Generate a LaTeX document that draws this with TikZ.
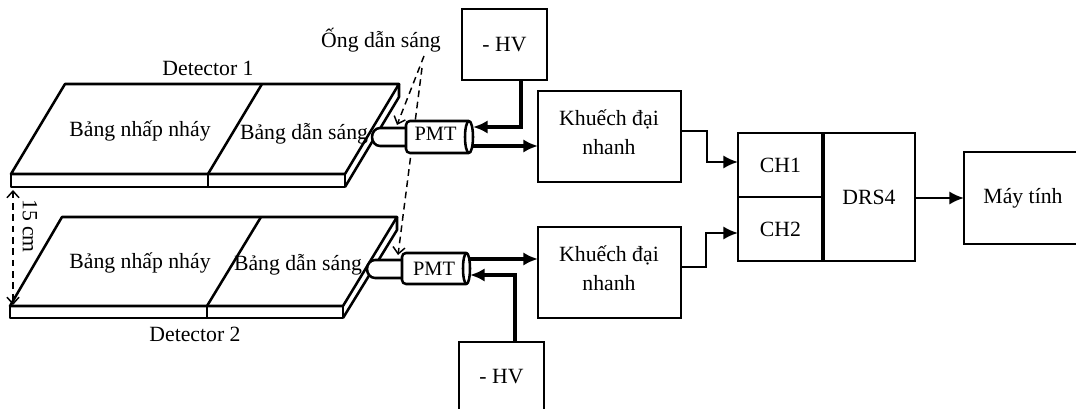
\documentclass[tikz,border=0pt]{standalone}
\usepackage{fontspec}
\setmainfont{Liberation Serif}
\usepackage{tikz}
\usetikzlibrary{arrows.meta}
\tikzset{
  lbl/.style={font=\fontsize{16.3pt}{21.5pt}\selectfont, inner sep=0pt, align=center},
  box/.style 2 args={draw, line width=1.9pt, fill=white, outer sep=0pt, inner sep=0pt, align=center, minimum width=#1*0.75pt, minimum height=#2*0.75pt, lbl},
  plate/.style={draw, line width=1.9pt, line join=round},
  link/.style={line width=1.9pt, -{Latex[length=11pt,width=10pt]}},
  heavy/.style={link, line width=2.5pt},
  hint/.style={line width=1.1pt, dash pattern=on 5pt off 3.5pt, -{Straight Barb[length=5pt,width=9pt]}}
}
\begin{document}
\begin{tikzpicture}[x=0.75pt, y=-0.75pt]
    \useasboundingbox (0,0) rectangle (1076,409);
    \clip (0,0) rectangle (1076,409);

    \coordinate (G1) at (424,56);
    \coordinate (G2) at (422,68);
    \coordinate (D1) at (397,125);
    \coordinate (D2) at (398,255);
    \coordinate (gapT) at (13,190);
    \coordinate (gapB) at (13,305);

    % detector 1
    \coordinate (A1) at (11,174);
    \coordinate (A2) at (65,84);
    \coordinate (A3) at (399,84);
    \coordinate (A4) at (345,174);
    \coordinate (A5) at (208,174);
    \coordinate (A6) at (262,84);
    \draw[plate] (A1) -- (A2) -- (A3) -- (A4) -- cycle;
    \draw[plate] (A5) -- (A6);
    \draw[plate] (A1) rectangle (345,187);
    \draw[plate] (A5) -- (208,187);
    \draw[plate] (A3) -- (399,97) -- (345,187);

    % detector 2
    \coordinate (B1) at (10,306);
    \coordinate (B2) at (62,217);
    \coordinate (B3) at (397,217);
    \coordinate (B4) at (343,306);
    \coordinate (B5) at (207,306);
    \coordinate (B6) at (261,217);
    \draw[plate] (B1) -- (B2) -- (B3) -- (B4) -- cycle;
    \draw[plate] (B5) -- (B6);
    \draw[plate] (B1) rectangle (343,318);
    \draw[plate] (B5) -- (207,318);
    \draw[plate] (B3) -- (397,230) -- (343,318);

    % pointers go under the PMT
    \draw[hint] (G1) -- (D1);
    \draw[hint] (G2) -- (D2);
    \draw[hint, {Straight Barb[length=5pt,width=9pt]}-{Straight Barb[length=5pt,width=9pt]}] (gapT) -- (gapB);

    % guide and PMT 1
    \draw[plate, fill=white] (406,128) -- (380,128) to[out=180, in=90] (372,137) to[out=-90, in=180] (380,146) -- (406,146);
    \draw[plate, fill=white, rounded corners=3pt] (469,121) -- (406,121) -- (406,153) -- (469,153);
    \draw[plate, fill=white] (469,137) ellipse (4 and 16);
    \node[lbl, font=\fontsize{15.3pt}{18pt}\selectfont] (pmtA) at (435.5,134) {PMT};
    \coordinate (pA1) at (473,127);
    \coordinate (pA2) at (473,146);

    % guide and PMT 2
    \draw[plate, fill=white] (402,260) -- (375,260) to[out=180, in=90] (367,269) to[out=-90, in=180] (375,278) -- (402,278);
    \draw[plate, fill=white, rounded corners=3pt] (466.5,253) -- (402,253) -- (402,284) -- (466.5,284);
    \draw[plate, fill=white] (466.5,268.5) ellipse (3.5 and 15.5);
    \node[lbl, font=\fontsize{15.3pt}{18pt}\selectfont] (pmtB) at (434,269) {PMT};
    \coordinate (pB1) at (470,259);
    \coordinate (pB2) at (470,275);

    % boxes
    \node[box={85}{71}] (hvA) at (504.5,44.5) {- HV};
    \node[box={85}{69}] (hvB) at (501.5,376.5) {- HV};
    \node[box={143}{91}] (ampA) at (609.5,136.5) {};
    \node[box={143}{91}] (ampB) at (609.5,272.5) {};
    \node[box={85}{64}] (chA) at (780.5,165) {CH1};
    \node[box={85}{64}] (chB) at (780.5,229) {CH2};
    \node[box={92}{128}] (drs) at (869,197) {DRS4};
    \node[box={118}{92}] (pc) at (1023,198) {Máy tính};
    \draw[line width=2.6pt] (chA.north east) -- (chB.south east);

    % connectors
    \draw[heavy] (521,0 |- hvA.south) |- (pA1);
    \draw[heavy] (pA2) -- (ampA.west |- pA2);
    \draw[heavy] (515,0 |- hvB.north) |- (pB2);
    \draw[heavy] (pB1) -- (ampB.west |- pB1);
    \draw[link] (ampA.east |- 0,131) -| (707,162) -- (chA.west |- 0,162);
    \draw[link] (ampB.east |- 0,267) -| (706,233) -- (chB.west |- 0,233);
    \draw[link] (drs.east |- 0,198) -- (pc.west |- 0,198);

    % labels
    \node[lbl] (det1) at (208,68) {Detector 1};
    \node[lbl] (det2) at (195,334) {Detector 2};
    \node[lbl] (scA) at (140,131) {Bảng nhấp nháy};
    \node[lbl] (scB) at (140,263) {Bảng nhấp nháy};
    \node[lbl] (lgA) at (304,134) {Bảng dẫn sáng};
    \node[lbl] (lgB) at (298,265) {Bảng dẫn sáng};
    \node[lbl] (guide) at (381,40) {Ống dẫn sáng};
    \node[lbl, rotate=-90] (gap) at (30,226) {15 cm};
    \node[lbl] (ampAt) at (609,132) {Khuếch đại\\nhanh};
    \node[lbl] (ampBt) at (609,268) {Khuếch đại\\nhanh};
\end{tikzpicture}
\end{document}
